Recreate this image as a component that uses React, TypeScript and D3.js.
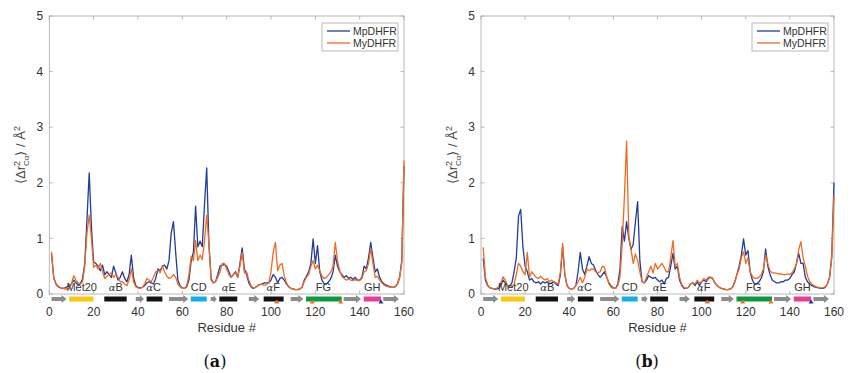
import React from "react";
import * as d3 from "d3";

const residues: number[] = d3.range(1, 161);

const aMp: number[] = [
  0.72,0.30,0.18,0.13,0.11,0.10,0.11,0.13,0.15,0.18,
  0.25,0.20,0.17,0.18,0.28,0.55,1.35,2.18,1.20,0.58,
  0.55,0.50,0.42,0.52,0.35,0.40,0.35,0.30,0.50,0.38,
  0.25,0.30,0.40,0.28,0.22,0.35,0.70,0.30,0.15,0.12,
  0.11,0.12,0.15,0.20,0.22,0.20,0.18,0.28,0.45,0.42,
  0.50,0.52,0.45,0.60,1.10,1.30,0.75,0.25,0.15,0.11,
  0.10,0.13,0.25,0.60,0.75,1.58,0.85,0.95,0.85,1.60,
  2.27,0.90,0.28,0.20,0.22,0.35,0.50,0.52,0.53,0.50,
  0.40,0.30,0.35,0.40,0.30,0.55,0.83,0.45,0.35,0.20,
  0.13,0.10,0.12,0.15,0.17,0.18,0.20,0.20,0.20,0.25,
  0.35,0.30,0.20,0.28,0.30,0.25,0.18,0.13,0.10,0.09,
  0.08,0.08,0.09,0.12,0.25,0.32,0.40,0.55,0.99,0.55,
  0.87,0.40,0.25,0.18,0.18,0.22,0.28,0.40,0.70,0.50,
  0.40,0.35,0.30,0.33,0.28,0.30,0.26,0.30,0.25,0.25,
  0.30,0.50,0.45,0.65,0.93,0.65,0.40,0.45,0.30,0.22,
  0.18,0.16,0.14,0.13,0.12,0.13,0.18,0.30,0.60,2.30,
];

const aMy: number[] = [
  0.76,0.28,0.19,0.14,0.12,0.10,0.09,0.09,0.10,0.18,
  0.33,0.25,0.20,0.18,0.22,0.50,1.10,1.42,1.00,0.48,
  0.52,0.45,0.55,0.40,0.28,0.32,0.35,0.38,0.30,0.35,
  0.30,0.22,0.22,0.18,0.15,0.25,0.45,0.22,0.13,0.11,
  0.10,0.12,0.18,0.28,0.25,0.22,0.30,0.40,0.42,0.38,
  0.50,0.40,0.32,0.28,0.30,0.35,0.30,0.18,0.13,0.10,
  0.10,0.15,0.35,0.68,0.60,0.96,0.60,0.70,0.62,0.95,
  1.42,0.90,0.25,0.20,0.22,0.30,0.40,0.55,0.55,0.45,
  0.35,0.30,0.35,0.38,0.30,0.50,0.75,0.38,0.40,0.25,
  0.15,0.11,0.12,0.15,0.17,0.17,0.16,0.17,0.20,0.40,
  0.75,0.93,0.42,0.52,0.55,0.32,0.20,0.13,0.10,0.09,
  0.08,0.08,0.09,0.12,0.22,0.30,0.35,0.50,0.60,0.45,
  0.52,0.42,0.32,0.28,0.30,0.35,0.40,0.50,0.93,0.60,
  0.42,0.32,0.28,0.25,0.27,0.25,0.24,0.26,0.24,0.24,
  0.28,0.40,0.42,0.55,0.82,0.55,0.30,0.32,0.25,0.20,
  0.16,0.14,0.13,0.12,0.12,0.13,0.17,0.28,0.55,2.40,
];

const bMp: number[] = [
  0.64,0.25,0.15,0.11,0.10,0.09,0.09,0.10,0.15,0.25,
  0.20,0.15,0.14,0.20,0.40,0.65,1.40,1.52,0.85,0.50,
  0.40,0.25,0.28,0.22,0.20,0.22,0.18,0.22,0.20,0.22,
  0.18,0.20,0.22,0.18,0.15,0.35,0.85,0.35,0.15,0.10,
  0.09,0.10,0.15,0.40,0.75,0.45,0.35,0.50,0.67,0.55,
  0.52,0.42,0.35,0.30,0.35,0.40,0.30,0.20,0.14,0.11,
  0.10,0.18,0.45,1.21,0.95,1.30,1.00,0.80,0.90,1.30,
  1.66,0.60,0.22,0.20,0.25,0.33,0.30,0.28,0.30,0.25,
  0.22,0.25,0.18,0.28,0.30,0.50,0.73,0.45,0.50,0.25,
  0.15,0.10,0.10,0.12,0.18,0.20,0.15,0.22,0.15,0.22,
  0.25,0.22,0.28,0.30,0.28,0.20,0.15,0.12,0.10,0.09,
  0.08,0.08,0.09,0.12,0.22,0.35,0.50,0.70,0.99,0.70,
  0.78,0.40,0.25,0.18,0.18,0.22,0.28,0.40,0.81,0.50,
  0.35,0.25,0.22,0.20,0.20,0.22,0.22,0.25,0.25,0.28,
  0.35,0.40,0.55,0.73,0.55,0.55,0.30,0.22,0.18,0.15,
  0.13,0.12,0.11,0.10,0.10,0.12,0.18,0.30,0.70,2.00,
];

const bMy: number[] = [
  0.84,0.30,0.17,0.12,0.10,0.09,0.10,0.13,0.20,0.31,
  0.25,0.15,0.12,0.12,0.18,0.35,0.55,0.50,0.40,0.35,
  0.75,0.30,0.40,0.35,0.30,0.28,0.32,0.28,0.25,0.28,
  0.22,0.25,0.22,0.20,0.18,0.40,0.91,0.35,0.15,0.10,
  0.09,0.10,0.15,0.22,0.30,0.20,0.30,0.45,0.42,0.45,
  0.45,0.40,0.38,0.40,0.50,0.48,0.30,0.18,0.12,0.10,
  0.10,0.15,0.30,0.90,1.75,2.75,1.05,0.80,0.55,0.72,
  0.60,0.40,0.22,0.20,0.30,0.40,0.50,0.38,0.55,0.45,
  0.50,0.55,0.48,0.40,0.40,0.65,0.96,0.50,0.55,0.30,
  0.17,0.12,0.10,0.12,0.18,0.20,0.18,0.25,0.20,0.22,
  0.28,0.25,0.30,0.31,0.28,0.20,0.16,0.12,0.10,0.09,
  0.08,0.08,0.09,0.12,0.20,0.35,0.45,0.65,0.76,0.55,
  0.65,0.40,0.32,0.28,0.28,0.30,0.35,0.45,0.70,0.55,
  0.42,0.38,0.38,0.37,0.36,0.36,0.35,0.35,0.36,0.35,
  0.38,0.45,0.55,0.80,0.94,0.65,0.50,0.32,0.22,0.18,
  0.15,0.13,0.12,0.11,0.11,0.13,0.18,0.30,0.65,1.77,
];

const seriesNames: string[] = ["MpDHFR", "MyDHFR"];
const seriesColors: string[] = ["#1f3d99", "#f26a21"];
const xTicks: number[] = [0, 20, 40, 60, 80, 100, 120, 140, 160];
const yTicks: number[] = [0, 1, 2, 3, 4, 5];

// secondary structure: [start, end, kind]
const ssStart: number[] = [1, 9, 24.8, 39, 43.9, 54, 63.8, 72.8, 76.7, 90, 96.7, 108.9, 115.8, 132.8, 141.8, 150.7];
const ssEnd: number[] = [7.8, 19.9, 34.9, 42.7, 51, 62.7, 71, 75.5, 84.8, 94.7, 105.7, 114.6, 131.9, 140.6, 149.6, 157.7];
const ssKind: string[] = ["s", "Met20", "h", "s", "h", "s", "CD", "s", "h", "s", "h", "s", "FG", "s", "GH", "s"];
const loopColors: Record<string, string> = { Met20: "#ffc60a", CD: "#12aee6", FG: "#0a9a3c", GH: "#ea3c95" };

const regionLabels: string[] = ["Met20", "αB", "αC", "CD", "αE", "αF", "FG", "GH"];
const regionPos: number[] = [14.6, 30, 47, 67.4, 81, 101, 123.6, 145.7];

const triPos: number[] = [102.6, 118.6, 131.4, 149.6];
const triSeries: number[] = [1, 1, 1, 0];

const W = 854, H = 373;
const yTop = 16, yBot = 294;
const panels = [
  { x0: 49.3, x1: 404, mp: aMp, my: aMy, label: "a", labelX: 215 },
  { x0: 481, x1: 834, mp: bMp, my: bMy, label: "b", labelX: 647 },
];

const axisCol = "#a8a8a8";
const textCol = "#333";
const font = "'Liberation Sans', Arial, Helvetica, sans-serif";

function Panel({ p }: { p: typeof panels[number] }) {
  const x = d3.scaleLinear().domain([0, 160]).range([p.x0, p.x1]);
  const y = d3.scaleLinear().domain([0, 5]).range([yBot, yTop]);
  const line = d3.line<number>().x((_, i) => x(residues[i])).y((v) => y(v));
  const series = [p.mp, p.my];
  const barY = 296.5, barH = 5;
  const cy = barY + barH / 2;
  const lx0 = p.x1 - 82, ly0 = 23;
  return (
    <g>
      <rect x={p.x0} y={yTop} width={p.x1 - p.x0} height={yBot - yTop} fill="none" stroke={axisCol} strokeWidth={0.8} />
      {xTicks.map((t) => (
        <g key={"xt" + t}>
          <line x1={x(t)} x2={x(t)} y1={yBot} y2={yBot - 3.5} stroke={axisCol} strokeWidth={0.8} />
          <line x1={x(t)} x2={x(t)} y1={yTop} y2={yTop + 3.5} stroke={axisCol} strokeWidth={0.8} />
          <text x={x(t)} y={316} textAnchor="middle" fontSize={12} fill={textCol} fontFamily={font}>{t}</text>
        </g>
      ))}
      {yTicks.map((t) => (
        <g key={"yt" + t}>
          <line x1={p.x0} x2={p.x0 + 3.5} y1={y(t)} y2={y(t)} stroke={axisCol} strokeWidth={0.8} />
          <line x1={p.x1} x2={p.x1 - 3.5} y1={y(t)} y2={y(t)} stroke={axisCol} strokeWidth={0.8} />
          <text x={p.x0 - 6} y={y(t) + 4.2} textAnchor="end" fontSize={12} fill={textCol} fontFamily={font}>{t}</text>
        </g>
      ))}
      {series.map((s, i) => (
        <path key={"s" + i} d={line(s) || ""} fill="none" stroke={seriesColors[i]} strokeWidth={1.3} strokeLinejoin="round" />
      ))}
      {ssStart.map((s, i) => {
        const k = ssKind[i];
        const xa = x(s), xb = x(ssEnd[i]);
        if (k === "s") {
          const hw = Math.min(5, (xb - xa) * 0.5);
          const pts = [
            [xa, cy - 2], [xb - hw, cy - 2], [xb - hw, cy - 4], [xb, cy],
            [xb - hw, cy + 4], [xb - hw, cy + 2], [xa, cy + 2],
          ];
          return <polygon key={"ss" + i} points={pts.map((q) => q.join(",")).join(" ")} fill="#8c8c8c" />;
        }
        const col = k === "h" ? "#111" : loopColors[k];
        return <rect key={"ss" + i} x={xa} y={barY} width={xb - xa} height={barH} fill={col} />;
      })}
      {triPos.map((t, i) => (
        <polygon key={"tr" + i}
          points={`${x(t) - 2.5},${barY + barH + 2} ${x(t) + 2.5},${barY + barH + 2} ${x(t)},${barY + barH - 2}`}
          fill={seriesColors[triSeries[i]]} />
      ))}
      {regionLabels.map((l, i) => (
        <text key={"rl" + i} x={x(regionPos[i])} y={291} textAnchor="middle" fontSize={11} fill={textCol} fontFamily={font}>
          {l.startsWith("α") ? (
            <>
              <tspan fontFamily="'DejaVu Serif', serif" fontStyle="italic" fontSize={10}>α</tspan>
              <tspan>{l.slice(1)}</tspan>
            </>
          ) : l}
        </text>
      ))}
      <text x={(p.x0 + p.x1) / 2} y={332} textAnchor="middle" fontSize={13} fill={textCol} fontFamily={font}>Residue #</text>
      <g>
        <rect x={lx0} y={ly0} width={76} height={28} fill="#fff" stroke={axisCol} strokeWidth={0.8} />
        {seriesNames.map((n, i) => (
          <g key={"lg" + i}>
            <line x1={lx0 + 5} x2={lx0 + 28} y1={ly0 + 8 + i * 12} y2={ly0 + 8 + i * 12} stroke={seriesColors[i]} strokeWidth={1.3} />
            <text x={lx0 + 31} y={ly0 + 11.8 + i * 12} fontSize={10.5} fill={textCol} fontFamily={font}>{n}</text>
          </g>
        ))}
      </g>
      <text x={p.x0 - 24} y={(yTop + yBot) / 2} transform={`rotate(-90 ${p.x0 - 24} ${(yTop + yBot) / 2})`}
        textAnchor="middle" fontSize={13} fill="#444" fontFamily={font}>
        <tspan>⟨Δr</tspan>
        <tspan fontSize={9} dy={-5}>2</tspan>
        <tspan fontSize={8} dx={-5} dy={9}>Cα</tspan>
        <tspan dy={-4}>⟩ / Å</tspan>
        <tspan fontSize={9} dy={-5}>2</tspan>
      </text>
      <text x={p.labelX} y={367} textAnchor="middle" fontSize={16} fill="#111" fontFamily="'DejaVu Serif', 'Liberation Serif', serif">
        (<tspan fontWeight="bold">{p.label}</tspan>)
      </text>
    </g>
  );
}

export default function App() {
  return (
    <svg width={W} height={H} style={{ position: "absolute", left: 0, top: 0, background: "#fff" }}>
      <rect width={W} height={H} fill="#fff" />
      {panels.map((p, i) => <Panel key={i} p={p} />)}
    </svg>
  );
}
